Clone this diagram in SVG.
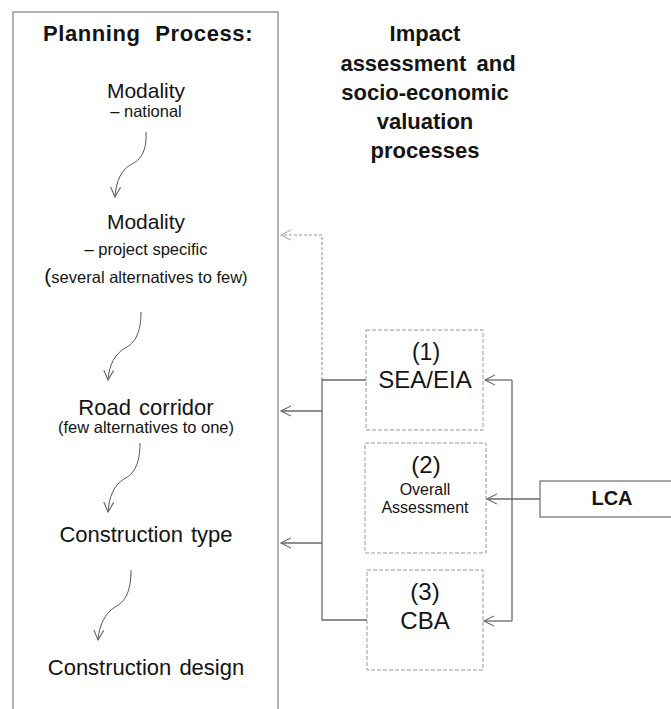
<svg xmlns="http://www.w3.org/2000/svg" width="671" height="709" viewBox="0 0 671 709">
<style>
text{font-family:"Liberation Sans",Arial,sans-serif;fill:#141414;text-anchor:middle}
.m{font-size:21px}
.l{font-size:22px}
.s{font-size:16.5px}
.h{font-size:22px;font-weight:bold}
.box{fill:#fff;stroke:#999;stroke-width:1;stroke-dasharray:4 2}
.ln{fill:none;stroke:#6a6a6a;stroke-width:1.3}
.dl{fill:none;stroke:#999;stroke-width:1.2;stroke-dasharray:3 2}
.wv{fill:none;stroke:#555;stroke-width:1}
</style>
<defs>
<marker id="ah" markerUnits="userSpaceOnUse" markerWidth="12" markerHeight="12" refX="10" refY="5" orient="auto" viewBox="0 0 12 10">
<path d="M0,0 L10,5 L0,10" fill="none" stroke="#666" stroke-width="1.1"/>
</marker>
<marker id="ahl" markerUnits="userSpaceOnUse" markerWidth="12" markerHeight="12" refX="10" refY="5" orient="auto" viewBox="0 0 12 10">
<path d="M0,0 L10,5 L0,10" fill="none" stroke="#aaa" stroke-width="1.1"/>
</marker>
</defs>
<rect width="671" height="709" fill="#fff"/>

<g id="planning">
<rect x="13" y="12" width="265" height="710" fill="none" stroke="#888" stroke-width="1.3"/>
<text x="148" y="41" class="h" style="word-spacing:8px;letter-spacing:0.6px">Planning Process:</text>
</g>
<g id="modality-national">
<text x="146" y="98" class="m">Modality</text>
<text x="146" y="117" class="s">– national</text>
</g>
<g id="modality-project">
<text x="146" y="229" class="m">Modality</text>
<text x="146" y="255" class="s">– project specific</text>
<text x="146" y="283" class="s"><tspan style="font-size:21px">(</tspan>several alternatives to few)</text>
</g>
<g id="road-corridor">
<text x="146" y="415" class="l" style="word-spacing:2px">Road corridor</text>
<text x="146" y="433" class="s">(few alternatives to one)</text>
</g>
<g id="construction-type">
<text x="146" y="542" class="l" style="word-spacing:2px">Construction type</text>
</g>
<g id="construction-design">
<text x="146" y="675" class="l" style="word-spacing:2px">Construction design</text>
</g>

<g id="impact-title">
<text x="425" y="41" class="h">Impact</text>
<text x="428" y="71" class="h" style="word-spacing:4px">assessment and</text>
<text x="425" y="100" class="h">socio-economic</text>
<text x="425" y="129" class="h">valuation</text>
<text x="425" y="158" class="h">processes</text>
</g>

<g id="sea-eia">
<rect x="366" y="330" width="117" height="100" class="box"/>
<text x="426" y="360" style="font-size:23px">(1)</text>
<text x="425" y="388" style="font-size:24px">SEA/EIA</text>
</g>
<g id="overall">
<rect x="365" y="443" width="121" height="110" class="box"/>
<text x="426" y="473" style="font-size:24px">(2)</text>
<text x="425" y="495" style="font-size:16px">Overall</text>
<text x="425" y="513" style="font-size:16px">Assessment</text>
</g>
<g id="cba">
<rect x="367" y="570" width="116" height="100" class="box"/>
<text x="425" y="600" style="font-size:24px">(3)</text>
<text x="425" y="629" style="font-size:24px">CBA</text>
</g>
<g id="lca">
<rect x="540" y="481" width="140" height="36" fill="#fff" stroke="#777" stroke-width="1.3"/>
<text x="612" y="505" style="font-size:20px;font-weight:bold">LCA</text>
</g>

<g id="connectors">
<path class="wv" d="M146,132 C147,152 140,160 132,164 C122,169 116,180 115,197" marker-end="url(#ah)"/>
<path class="wv" d="M141,312 C141,333 135,343 125,348 C115,354 109,365 108,380" marker-end="url(#ah)"/>
<path class="wv" d="M140,443 C140,464 134,474 124,479 C114,485 109,497 108,512" marker-end="url(#ah)"/>
<path class="wv" d="M131,570 C131,592 125,602 115,607 C105,613 99,626 98,640" marker-end="url(#ah)"/>

<path class="dl" d="M322,380 L322,235 L281,235" marker-end="url(#ahl)"/>
<path class="ln" d="M366,380 L322,380 L322,620 L367,620"/>
<path class="ln" d="M322,411 L281,411" marker-end="url(#ah)"/>
<path class="ln" d="M322,543 L281,543" marker-end="url(#ah)"/>

<path class="ln" d="M512,380 L512,621"/>
<path class="ln" d="M512,380 L485,380" marker-end="url(#ah)"/>
<path class="ln" d="M540,499 L487,499" marker-end="url(#ah)"/>
<path class="ln" d="M512,621 L484,621" marker-end="url(#ah)"/>
</g>
</svg>
